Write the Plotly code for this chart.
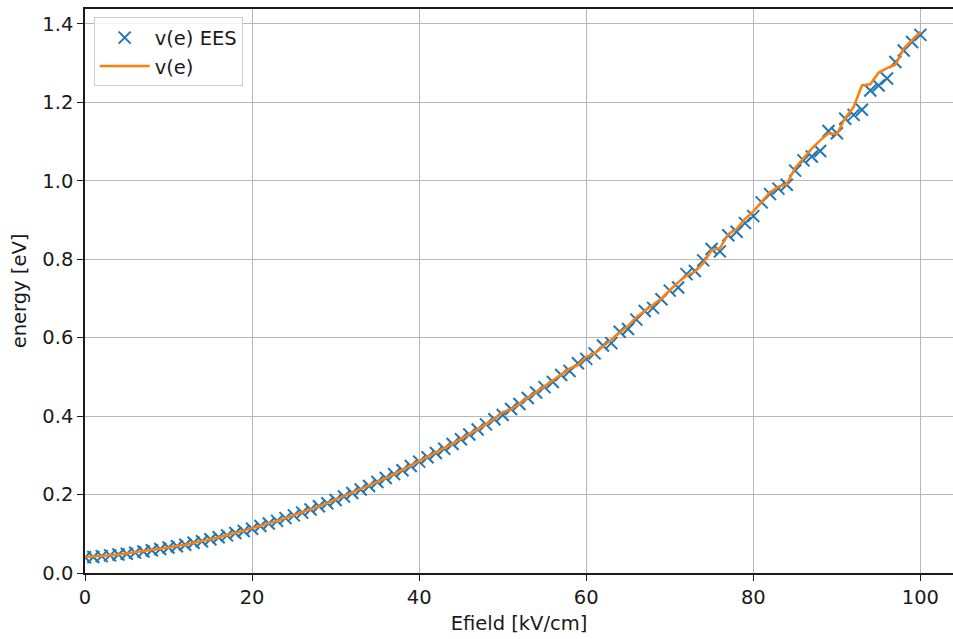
import plotly.graph_objects as go

# Electric field strength [kV/cm]
efield = list(range(0, 101))

# Mean electron energy from the EES solver [eV]
energy_ees = [
    0.040, 0.041, 0.043, 0.045, 0.047, 0.049, 0.052, 0.055, 0.058, 0.061,
    0.065, 0.068, 0.072, 0.077, 0.081, 0.086, 0.091, 0.096, 0.102, 0.107,
    0.113, 0.120, 0.126, 0.133, 0.140, 0.147, 0.154, 0.162, 0.170, 0.178,
    0.186, 0.195, 0.204, 0.213, 0.222, 0.232, 0.242, 0.252, 0.262, 0.273,
    0.284, 0.295, 0.306, 0.317, 0.329, 0.341, 0.353, 0.366, 0.379, 0.392,
    0.403, 0.418, 0.431, 0.446, 0.460, 0.474, 0.487, 0.505, 0.515, 0.535,
    0.546, 0.560, 0.580, 0.586, 0.615, 0.622, 0.646, 0.668, 0.676, 0.698,
    0.720, 0.728, 0.762, 0.770, 0.797, 0.826, 0.820, 0.861, 0.870, 0.892,
    0.910, 0.945, 0.966, 0.980, 0.990, 1.026, 1.052, 1.062, 1.076, 1.127,
    1.121, 1.158, 1.168, 1.181, 1.230, 1.243, 1.261, 1.303, 1.332, 1.354,
    1.372,
]

# Mean electron energy from the reference run [eV]
energy_ref = [
    0.041, 0.042, 0.044, 0.045, 0.047, 0.050, 0.052, 0.055, 0.058, 0.061,
    0.065, 0.069, 0.072, 0.077, 0.081, 0.086, 0.091, 0.096, 0.102, 0.108,
    0.114, 0.120, 0.126, 0.133, 0.140, 0.147, 0.155, 0.162, 0.170, 0.178,
    0.187, 0.195, 0.204, 0.214, 0.223, 0.233, 0.242, 0.252, 0.263, 0.273,
    0.284, 0.295, 0.306, 0.318, 0.330, 0.342, 0.354, 0.367, 0.379, 0.393,
    0.410, 0.417, 0.433, 0.447, 0.461, 0.476, 0.490, 0.504, 0.521, 0.530,
    0.551, 0.560, 0.578, 0.596, 0.613, 0.630, 0.652, 0.668, 0.683, 0.700,
    0.721, 0.741, 0.758, 0.768, 0.790, 0.823, 0.828, 0.864, 0.877, 0.903,
    0.922, 0.946, 0.971, 0.985, 0.991, 1.033, 1.057, 1.082, 1.103, 1.121,
    1.119, 1.160, 1.188, 1.243, 1.246, 1.276, 1.287, 1.296, 1.337, 1.358,
    1.380,
]

fig = go.Figure()
fig.add_trace(go.Scatter(
    x=efield, y=energy_ees, mode="markers", name="v(e) EES",
    marker=dict(symbol="x-thin", size=12, color="#1f77b4",
                line=dict(width=2, color="#1f77b4")),
))
fig.add_trace(go.Scatter(
    x=efield, y=energy_ref, mode="lines", name="v(e)",
    line=dict(color="#ff7f0e", width=2.5),
))

axis_font = dict(family="DejaVu Sans", size=19.5, color="#1a1a1a")
common = dict(
    showgrid=True, gridcolor="#b8b8b8", gridwidth=1.4,
    showline=True, linecolor="#1a1a1a", linewidth=1.6,
    ticks="outside", ticklen=6, tickwidth=1.4, tickcolor="#1a1a1a",
    tickfont=axis_font, zeroline=False,
)

fig.update_layout(
    width=953, height=639,
    margin=dict(l=85, r=0, t=9, b=66),
    paper_bgcolor="white", plot_bgcolor="white",
    font=axis_font,
    xaxis=dict(range=[0, 103.9], tickvals=[0, 20, 40, 60, 80, 100],
               mirror=True,
               title=dict(text="Efield [kV/cm]", font=axis_font, standoff=8),
               **common),
    yaxis=dict(range=[0, 1.438], tickvals=[0.0, 0.2, 0.4, 0.6, 0.8, 1.0, 1.2, 1.4],
               tickformat=".1f", mirror=False,
               title=dict(text="energy [eV]", font=axis_font, standoff=10),
               **common),
    legend=dict(x=0.01, y=0.985, xanchor="left", yanchor="top",
                bgcolor="rgba(255,255,255,0.85)", bordercolor="#cccccc",
                borderwidth=1, font=axis_font, itemwidth=50,
                tracegroupgap=4),
    showlegend=True,
)

fig.write_html("out.html")
